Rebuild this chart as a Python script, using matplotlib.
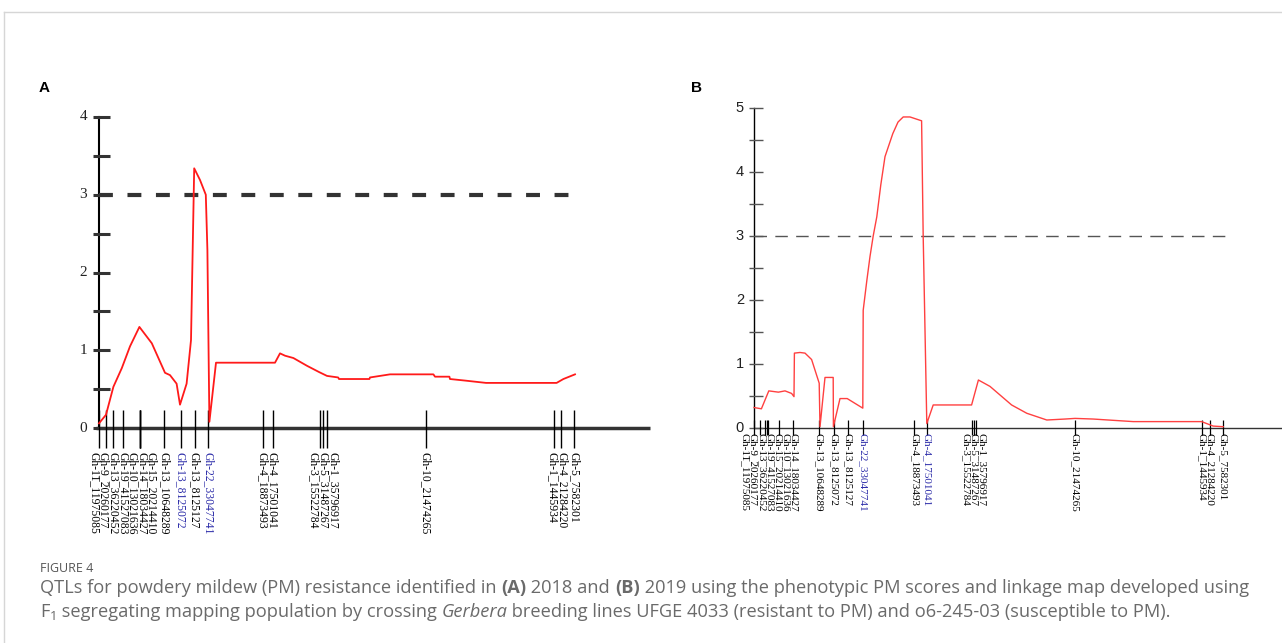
import numpy as np
import matplotlib.pyplot as plt
from matplotlib.lines import Line2D

plt.rcParams['lines.scale_dashes'] = False

# ---- panel A (2018) ----
names_a = ['Gh-11_11975085', 'Gh-9_20260177', 'Gh-13_36220452', 'Gh-19_41527083',
           'Gh-10_13021636', 'Gh-14_18034427', 'Gh-15_20214410', 'Gh-13_10648289',
           'Gh-13_8125072', 'Gh-13_8125127', 'Gh-22_33047741', 'Gh-4_18873493',
           'Gh-4_17501041', 'Gh-3_15522784', 'Gh-5_31487267', 'Gh-1_35796917',
           'Gh-10_21474265', 'Gh-1_1445934', 'Gh-4_21284220', 'Gh-5_7582301']
pos_a = [0, 1.75, 3.4, 6.1, 10.25, 10.25, 10.25, 16.25, 20.4, 23.9, 27.3, 40.9,
         43.4, 55.3, 56.1, 56.9, 81.7, 113.8, 115.4, 118.8]
blue_a = ['Gh-13_8125072', 'Gh-22_33047741']
cm_a = [0, 1.75, 3.6, 5.7, 7.75, 10.1, 13.2, 16.5, 17.75, 19.4, 20.25, 21.9, 23.0,
        23.8, 25.25, 26.7, 27.1, 27.6, 29.25, 44.0, 45.25, 46.5, 48.6, 52.0, 55.0,
        57.0, 59.8, 60.0, 67.6, 67.75, 72.75, 83.6, 84.0, 87.6, 87.75, 91.5, 96.75,
        114.4, 116.1, 119.0]
lod_a = [0.06, 0.17, 0.53, 0.77, 1.05, 1.30, 1.09, 0.71, 0.68, 0.57, 0.30, 0.57, 1.13,
         3.34, 3.19, 3.0, 2.29, 0.08, 0.84, 0.84, 0.96, 0.93, 0.90, 0.80, 0.72,
         0.67, 0.65, 0.63, 0.63, 0.65, 0.69, 0.69, 0.66, 0.66, 0.63, 0.61, 0.58,
         0.58, 0.63, 0.69]
thr_a = 3.0

# ---- panel B (2019) ----
names_b = ['Gh-11_11975085', 'Gh-9_20260177', 'Gh-13_36220452', 'Gh-19_41527083',
           'Gh-15_20214410', 'Gh-10_13021636', 'Gh-14_18034427', 'Gh-13_10648289',
           'Gh-13_8125072', 'Gh-13_8125127', 'Gh-22_33047741', 'Gh-4_18873493',
           'Gh-4_17501041', 'Gh-3_15522784', 'Gh-5_31487267', 'Gh-1_35796917',
           'Gh-10_21474265', 'Gh-1_1445934', 'Gh-4_21284220', 'Gh-5_7582301']
pos_b = [0, 1.5, 2.75, 3.2, 3.6, 6.25, 9.8, 16.25, 20.0, 23.4, 27.3, 40.1, 43.3,
         54.6, 55.0, 55.4, 80.25, 111.9, 114.0, 117.3]
blue_b = ['Gh-22_33047741', 'Gh-4_17501041']
cm_b = [0, 1.85, 3.7, 6.1, 7.75, 9.4, 10.0, 10.1, 11.5, 12.75, 14.4, 16.3, 16.5, 17.75,
        19.8, 19.85, 21.5, 23.3, 27.2, 27.3, 28.2, 29.0, 29.8, 30.7, 31.7, 32.75, 34.7,
        36.0, 37.3, 39.0, 41.9, 42.3, 43.2, 44.8, 54.4, 56.1, 59.0, 64.4, 68.2, 73.2,
        77.75, 80.25, 84.8, 94.8, 111.9, 114.8, 117.3]
lod_b = [0.32, 0.30, 0.58, 0.56, 0.58, 0.54, 0.49, 1.17, 1.18, 1.17, 1.07, 0.70, 0.02,
         0.79, 0.79, 0.02, 0.46, 0.46, 0.31, 1.84, 2.3, 2.68, 3.0, 3.30, 3.8, 4.24, 4.60,
         4.78, 4.86, 4.86, 4.80, 2.99, 0.07, 0.36, 0.36, 0.75, 0.65, 0.36, 0.23, 0.125,
         0.14, 0.15, 0.14, 0.10, 0.10, 0.03, 0.02]
thr_b = 3.0

W, H = 1282, 643
fig = plt.figure(figsize=(W / 100, H / 100), dpi=100)


def px_axes(left, top, right, bottom):
    return fig.add_axes([left / W, 1 - bottom / H, (right - left) / W, (bottom - top) / H])


def spread(pos, gap):
    # push overlapping labels apart, keeping each group centred on its markers
    groups = [[i] for i in range(len(pos))]
    while True:
        lab = []
        for g in groups:
            c = np.mean([pos[i] for i in g])
            lab.append([c + (k - (len(g) - 1) / 2) * gap for k in range(len(g))])
        merged = False
        for j in range(len(groups) - 1):
            if lab[j + 1][0] - lab[j][-1] < gap - 1e-9:
                groups[j] = groups[j] + groups.pop(j + 1)
                merged = True
                break
        if not merged:
            return [x for g in lab for x in g]


def panel(ax, names, pos, blue, cm, lod, thr, ymax, px_per_lod, st):
    ax.set_xlim(0, st['xmax'])
    ax.set_ylim(0, ymax)
    ax.axis('off')
    u = 1 / px_per_lod
    # axes lines
    ax.plot([st['x0'], st['x1']], [0, 0], color=st['axc'], lw=st['axlw'],
            clip_on=False, solid_capstyle='butt')
    ax.plot([0, 0], [0, ymax], color='black', lw=st['ylw'], clip_on=False)
    for t in np.arange(0, ymax + 0.01, 0.5):
        ax.plot([-st['tl'], st['tr']], [t, t], color=st['tc'], lw=st['tlw'],
                clip_on=False, solid_capstyle='butt')
        if t == int(t):
            ax.text(-st['lab_off'], t, '%d' % t, ha='right', va='center',
                    family=st['tfam'], fontsize=st['tfs'], color='#222222')
    # threshold
    ax.plot([0, pos[-1] + st['thr_ext']], [thr, thr], color=st['dc'], lw=st['dlw'],
            dashes=st['dash'], clip_on=False)
    # markers
    ax.vlines(pos, -st['m_below'] * u, st['m_above'] * u, color='black', lw=st['mlw'],
              clip_on=False)
    labx = spread(pos, st['gap'])
    for n, x in zip(names, labx):
        ax.text(x, -st['lab_top'] * u, n, rotation=270, ha='center', va='top',
                family='Liberation Serif', fontsize=st['lfs'],
                color='#2a2aa8' if n in blue else 'black', clip_on=False)
    # LOD profile
    ax.plot(cm, lod, color=st['rc'], lw=st['rlw'], clip_on=False)


ax_a = px_axes(99, 117, 650, 428)
panel(ax_a, names_a, pos_a, blue_a, cm_a, lod_a, thr_a, 4, (428 - 117) / 4,
      dict(xmax=137.75, x0=-0.75, x1=137.75, axc='#333333', axlw=2.5, ylw=1.5,
           tl=1.5, tr=2.75, tc='#333333', tlw=2.2, lab_off=3.0,
           tfam='Liberation Serif', tfs=11, dc='#333333', dlw=3.0, dash=(10, 10.5),
           thr_ext=0.5, m_below=20, m_above=18, mlw=1.0, gap=2.4, lab_top=24,
           lfs=8.4, rc='#ff1a1a', rlw=1.3))

ax_b = px_axes(754, 108, 1282, 428)
panel(ax_b, names_b, pos_b, blue_b, cm_b, lod_b, thr_b, 5, (428 - 108) / 5,
      dict(xmax=132, x0=0, x1=135, axc='#333333', axlw=1.0, ylw=1.0, tl=1.25,
           tr=2.25, tc='#555555', tlw=1.0, lab_off=2.5, tfam='Liberation Sans',
           tfs=10.5, dc='#555555', dlw=1.0, dash=(9, 6), thr_ext=1.5, m_below=7,
           m_above=8, mlw=0.9, gap=2.05, lab_top=5, lfs=8.0, rc='#ff4040', rlw=1.0))

# panel letters
fig.text(44 / W, 1 - 88 / H, 'A', ha='center', va='center', fontsize=11,
         fontweight='bold', family='Liberation Sans')
fig.text(697 / W, 1 - 88 / H, 'B', ha='center', va='center', fontsize=11,
         fontweight='bold', family='Liberation Sans')

# outer frame
fig.add_artist(Line2D([4 / W, 1], [1 - 12 / H, 1 - 12 / H], color='#d6d6d6', lw=1.0))
fig.add_artist(Line2D([4 / W, 4 / W], [0, 1 - 12 / H], color='#d6d6d6', lw=1.0))

# caption
cap_fam = ['Open Sans', 'DejaVu Sans']
cap_col = '#6a6a6a'
fig.text(40 / W, 1 - 568 / H, 'FIGURE 4', ha='left', va='center', fontsize=9.0,
         color='#555555', family=cap_fam)

line1 = [('QTLs for powdery mildew (PM) resistance identified in ', {}),
         ('(A)', {'fontweight': 'bold'}),
         (' 2018 and ', {}),
         ('(B)', {'fontweight': 'bold'}),
         (' 2019 using the phenotypic PM scores and linkage map developed using', {})]
line2 = [('F', {}), ('1', {'sub': True}),
         (' segregating mapping population by crossing ', {}),
         ('Gerbera', {'fontstyle': 'italic'}),
         (' breeding lines UFGE 4033 (resistant to PM) and o6-245-03 (susceptible to PM).', {})]

renderer = fig.canvas.get_renderer()


def rich_line(pieces, x0, y, fs, draw=True):
    x = x0
    for txt, kw in pieces:
        kw = dict(kw)
        sub = kw.pop('sub', False)
        size = fs * 0.7 if sub else fs
        yy = y + (5 if sub else 0)
        t = fig.text(x / W, 1 - yy / H, txt, ha='left', va='center', fontsize=size,
                     color=cap_col, family=cap_fam, **kw)
        x += t.get_window_extent(renderer).width
        if not draw:
            t.remove()
    return x - x0


w10 = rich_line(line1, 40, 588, 10, draw=False)
cap_fs = 10 * (1212 / w10)
rich_line(line1, 40, 588, cap_fs)
rich_line(line2, 40, 612, cap_fs)

fig.savefig('out.png', dpi=100)
